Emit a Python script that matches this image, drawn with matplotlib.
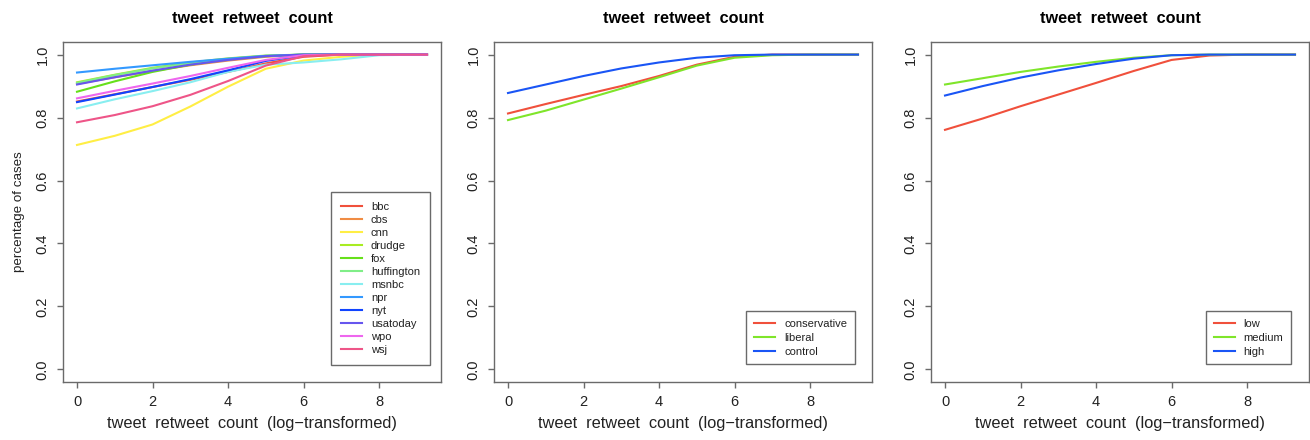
import numpy as np
import matplotlib
matplotlib.use("Agg")
import matplotlib.pyplot as plt

plt.rcParams['font.family'] = ['Liberation Sans', 'DejaVu Sans']

# x grid (log-transformed retweet count)
xs = [0, 1, 2, 3, 4, 5, 6, 7, 8, 9.27]

# panel 1: news outlets
outlets = ['bbc', 'cbs', 'cnn', 'drudge', 'fox', 'huffington',
           'msnbc', 'npr', 'nyt', 'usatoday', 'wpo', 'wsj']
outlet_colors = ['#F0503C', '#F08C44', '#FFEE44', '#A8EC22', '#66E01A', '#80EE88',
                 '#88EEF0', '#3399FF', '#1144FF', '#6655EE', '#EE66EE', '#EE5588']
bbc = [0.851, 0.874, 0.897, 0.920, 0.945, 0.972, 0.993, 1.0, 1.0, 1.0]
cbs = [0.907, 0.928, 0.948, 0.966, 0.981, 0.993, 1.0, 1.0, 1.0, 1.0]
cnn = [0.713, 0.742, 0.778, 0.835, 0.898, 0.955, 0.981, 0.993, 1.0, 1.0]
drudge = [0.912, 0.936, 0.958, 0.975, 0.988, 0.997, 1.0, 1.0, 1.0, 1.0]
fox = [0.882, 0.915, 0.945, 0.968, 0.985, 0.995, 1.0, 1.0, 1.0, 1.0]
huffington = [0.910, 0.935, 0.956, 0.973, 0.986, 0.996, 1.0, 1.0, 1.0, 1.0]
msnbc = [0.829, 0.858, 0.884, 0.912, 0.945, 0.968, 0.975, 0.985, 0.998, 1.0]
npr = [0.943, 0.955, 0.966, 0.977, 0.987, 0.996, 1.0, 1.0, 1.0, 1.0]
nyt = [0.849, 0.873, 0.897, 0.922, 0.950, 0.980, 0.998, 1.0, 1.0, 1.0]
usatoday = [0.905, 0.928, 0.949, 0.968, 0.983, 0.995, 1.0, 1.0, 1.0, 1.0]
wpo = [0.861, 0.885, 0.908, 0.932, 0.958, 0.983, 0.998, 1.0, 1.0, 1.0]
wsj = [0.785, 0.808, 0.836, 0.872, 0.916, 0.965, 0.995, 1.0, 1.0, 1.0]
outlet_vals = [bbc, cbs, cnn, drudge, fox, huffington, msnbc, npr, nyt, usatoday, wpo, wsj]

# panel 2: ideology
ideology = ['conservative', 'liberal', 'control']
ideology_colors = ['#F0503C', '#7FE52A', '#1A55F5']
conservative = [0.813, 0.843, 0.872, 0.900, 0.932, 0.968, 0.993, 1.0, 1.0, 1.0]
liberal = [0.792, 0.822, 0.857, 0.892, 0.928, 0.965, 0.990, 0.998, 1.0, 1.0]
control = [0.878, 0.905, 0.932, 0.956, 0.975, 0.990, 0.998, 1.0, 1.0, 1.0]
ideology_vals = [conservative, liberal, control]

# panel 3: levels
levels = ['low', 'medium', 'high']
level_colors = ['#F0503C', '#7FE52A', '#1A55F5']
low = [0.761, 0.797, 0.836, 0.873, 0.910, 0.948, 0.983, 0.997, 1.0, 1.0]
medium = [0.905, 0.925, 0.945, 0.962, 0.977, 0.990, 0.998, 1.0, 1.0, 1.0]
high = [0.870, 0.900, 0.927, 0.950, 0.970, 0.987, 0.998, 1.0, 1.0, 1.0]
level_vals = [low, medium, high]

W, H = 1310, 440
fig = plt.figure(figsize=(W / 100, H / 100), dpi=100)

# left edge px, names, colours, values, legend anchor, label spacing, border pad
panels = [
    (63, outlets, outlet_colors, outlet_vals, (0.971, 0.05), 0.27, 0.9),
    (494, ideology, ideology_colors, ideology_vals, (0.955, 0.052), 0.35, 0.7),
    (931, levels, level_colors, level_vals, (0.953, 0.052), 0.35, 0.7),
]

gray = '#6a6a6a'
for i, (left, names, cols, vals, anchor, lsp, bpad) in enumerate(panels):
    ax = fig.add_axes([left / W, 1 - 382 / H, 378 / W, 340 / H])
    for name, c, v in zip(names, cols, vals):
        ax.plot(xs, v, color=c, lw=1.5, label=name)
    ax.set_xlim(-0.371, 9.641)
    ax.set_ylim(-0.04, 1.04)
    ax.set_xticks([0, 2, 4, 6, 8])
    ax.set_yticks([0, 0.2, 0.4, 0.6, 0.8, 1.0])
    ax.set_yticklabels(['0.0', '0.2', '0.4', '0.6', '0.8', '1.0'])
    for s in ax.spines.values():
        s.set_color(gray)
        s.set_linewidth(1.0)
    ax.tick_params(axis='both', colors=gray, length=4.5, width=1.0,
                   labelsize=10.5, labelcolor='#222222', pad=5)
    for t in ax.get_yticklabels():
        t.set_rotation(90)
        t.set_va('center')
    ax.set_title('tweet  retweet  count', fontsize=11.7, fontweight='bold', pad=14)
    ax.set_xlabel('tweet  retweet  count  (log\u2212transformed)', fontsize=11.8,
                  color='#222222', labelpad=5)
    if i == 0:
        ax.set_ylabel('percentage of cases', fontsize=9.6, color='#222222', labelpad=8)
    leg = ax.legend(loc='lower right', bbox_to_anchor=anchor, borderaxespad=0,
                    fontsize=8, frameon=True, fancybox=False, framealpha=1,
                    edgecolor=gray, handlelength=1.9, handletextpad=0.8,
                    labelspacing=lsp, borderpad=bpad)
    leg.get_frame().set_linewidth(1.0)
    for t in leg.get_texts():
        t.set_color('#222222')

fig.savefig('out.png', dpi=100)
